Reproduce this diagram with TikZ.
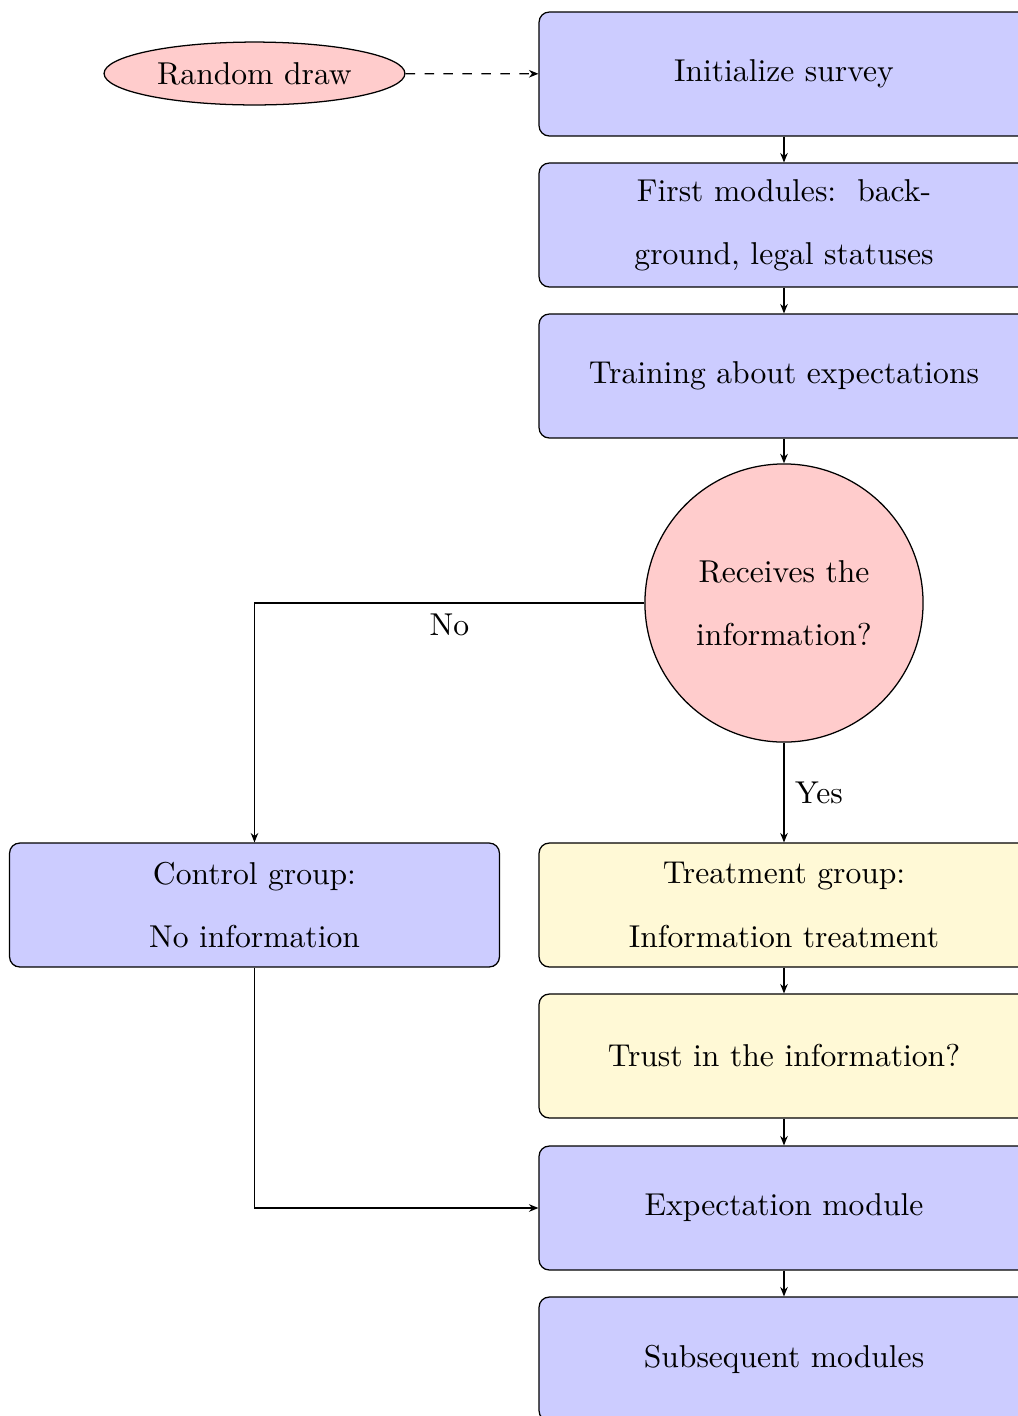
\documentclass[tikz,border=0pt]{standalone}
\usetikzlibrary{arrows.meta,shapes.geometric}
\definecolor{boxblue}{RGB}{204,204,255}
\definecolor{boxred}{RGB}{255,204,204}
\definecolor{boxyellow}{RGB}{255,249,214}
\tikzset{
  blockbox/.style={draw, rounded corners=3.2pt, fill=boxblue, minimum width=155pt, minimum height=39.2pt, inner sep=0pt, align=center},
  yellowbox/.style={blockbox, fill=boxyellow},
  decision/.style={draw, circle, fill=boxred, minimum size=88pt, inner sep=0pt, align=center},
  drawnode/.style={draw, ellipse, fill=boxred, minimum width=95.2pt, minimum height=19.9pt, inner sep=0pt},
  link/.style={draw, line width=0.4pt, -{Stealth[length=3pt,width=2.4pt]}},
}
\begin{document}
\begin{tikzpicture}[x=0.3164pt,y=-0.3164pt]
\clip (0,0) rectangle (1018,1416);
\node[drawnode] (rand) at (254.5,73.5) {Random draw};
\node[blockbox] (init) at (784,74) {Initialize survey};
\node[blockbox] (first) at (784,225) {First modules:\ \ back-\\[8pt]ground, legal statuses};
\node[blockbox] (train) at (784,376) {Training about expectations};
\node[decision] (recv) at (784,603) {Receives the\\[8pt]information?};
\node[blockbox] (ctrl) at (254.5,905) {Control group:\\[8pt]No information};
\node[yellowbox] (treat) at (784,905) {Treatment group:\\[8pt]Information treatment};
\node[yellowbox] (trust) at (784,1056) {Trust in the information?};
\node[blockbox] (expm) at (784,1208) {Expectation module};
\node[blockbox] (subs) at (784,1359) {Subsequent modules};

\draw[link, dashed] (rand) -- (init);
\draw[link] (init) -- (first);
\draw[link] (first) -- (train);
\draw[link] (train) -- (recv);
\draw[link] (recv.west) -| node[pos=0.25, below] {No} (ctrl.north);
\draw[link] (recv.south) -- node[right] {Yes} (treat.north);
\draw[link] (treat) -- (trust);
\draw[link] (trust) -- (expm);
\draw[link] (ctrl.south) |- (expm.west);
\draw[link] (expm) -- (subs);
\end{tikzpicture}
\end{document}
